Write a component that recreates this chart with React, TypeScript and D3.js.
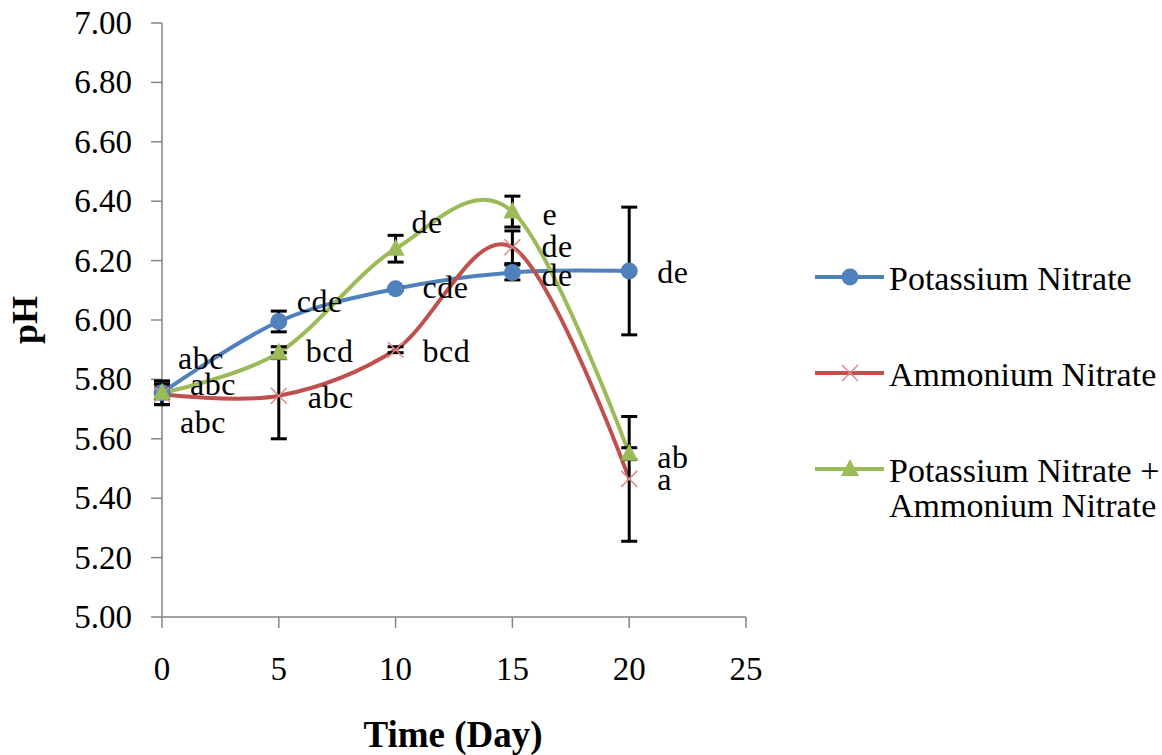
/**
 * pH over time chart
 * D3.js smoothed line chart with error bars and letter annotations
 */

import { useEffect, useRef } from 'react';
import * as d3 from 'd3';

const days = [0, 5, 10, 15, 20];
const xTicks = [0, 5, 10, 15, 20, 25];
const yTicks = [5.0, 5.2, 5.4, 5.6, 5.8, 6.0, 6.2, 6.4, 6.6, 6.8, 7.0];

const seriesNames = ['Potassium Nitrate', 'Ammonium Nitrate', 'Potassium Nitrate + Ammonium Nitrate'];

const potassiumValues = [5.755, 5.995, 6.105, 6.16, 6.165];
const ammoniumValues = [5.75, 5.745, 5.9, 6.245, 5.465];
const mixedValues = [5.755, 5.89, 6.24, 6.365, 5.55];

const potassiumErrors = [0.04, 0.035, 0.005, 0.025, 0.215];
const ammoniumErrors = [0.035, 0.145, 0.01, 0.055, 0.21];
const mixedErrors = [0.02, 0.02, 0.045, 0.052, 0.02];

const potassiumLetters = ['abc', 'cde', 'cde', 'de', 'de'];
const ammoniumLetters = ['abc', 'abc', 'bcd', 'de', 'a'];
const mixedLetters = ['abc', 'bcd', 'de', 'e', 'ab'];

const WIDTH = 1162;
const HEIGHT = 755;
const FONT = '"Liberation Serif", "Times New Roman", Times, serif';

export default function App() {
  const svgRef = useRef<SVGSVGElement>(null);

  useEffect(() => {
    if (!svgRef.current) return;
    document.body.style.margin = '0';

    d3.select(svgRef.current).selectAll('*').remove();

    const svg = d3.select(svgRef.current)
      .attr('width', WIDTH)
      .attr('height', HEIGHT)
      .attr('font-family', FONT)
      .style('display', 'block')
      .style('background', '#fff');

    const x = d3.scaleLinear().domain([0, 25]).range([162, 746]);
    const y = d3.scaleLinear().domain([5, 7]).range([617, 23]);
    const axisColor = '#868686';

    // Y axis
    svg.append('line')
      .attr('x1', x(0)).attr('x2', x(0))
      .attr('y1', y(7)).attr('y2', y(5))
      .attr('stroke', axisColor).attr('stroke-width', 1.5);
    yTicks.forEach(t => {
      svg.append('line')
        .attr('x1', x(0) - 11).attr('x2', x(0))
        .attr('y1', y(t)).attr('y2', y(t))
        .attr('stroke', axisColor).attr('stroke-width', 1.5);
      svg.append('text')
        .attr('x', 132)
        .attr('y', y(t) + 11)
        .attr('text-anchor', 'end')
        .style('font-size', '33px')
        .style('fill', '#000')
        .text(t.toFixed(2));
    });

    // X axis
    svg.append('line')
      .attr('x1', x(0)).attr('x2', x(25))
      .attr('y1', y(5)).attr('y2', y(5))
      .attr('stroke', axisColor).attr('stroke-width', 1.5);
    xTicks.forEach(t => {
      svg.append('line')
        .attr('x1', x(t)).attr('x2', x(t))
        .attr('y1', y(5)).attr('y2', y(5) + 11)
        .attr('stroke', axisColor).attr('stroke-width', 1.5);
      svg.append('text')
        .attr('x', x(t))
        .attr('y', 680)
        .attr('text-anchor', 'middle')
        .style('font-size', '33px')
        .style('fill', '#000')
        .text(t);
    });

    // Axis titles
    svg.append('text')
      .attr('transform', `translate(37,${y(6)}) rotate(-90)`)
      .attr('text-anchor', 'middle')
      .style('font-size', '36px')
      .style('font-weight', 'bold')
      .text('pH');
    svg.append('text')
      .attr('x', 453)
      .attr('y', 747)
      .attr('text-anchor', 'middle')
      .style('font-size', '37px')
      .style('font-weight', 'bold')
      .text('Time (Day)');

    const series = [
      { name: seriesNames[0], values: potassiumValues, errors: potassiumErrors, color: '#4F81BD', marker: 'circle' },
      { name: seriesNames[1], values: ammoniumValues, errors: ammoniumErrors, color: '#C0504D', marker: 'cross' },
      { name: seriesNames[2], values: mixedValues, errors: mixedErrors, color: '#9BBB59', marker: 'triangle' },
    ];

    const line = d3.line<number>()
      .x((_d, i) => x(days[i]))
      .y(d => y(d))
      .curve(d3.curveCardinal.tension(0));

    const drawMarker = (
      g: d3.Selection<SVGGElement, unknown, null, undefined>,
      kind: string,
      cx: number,
      cy: number,
      color: string
    ) => {
      if (kind === 'circle') {
        g.append('circle').attr('cx', cx).attr('cy', cy).attr('r', 8.5).attr('fill', color);
      } else if (kind === 'triangle') {
        g.append('path')
          .attr('d', `M${cx},${cy - 10}L${cx + 9},${cy + 7}L${cx - 9},${cy + 7}Z`)
          .attr('fill', color);
      } else {
        g.append('path')
          .attr('d', `M${cx - 8},${cy - 8}L${cx + 8},${cy + 8}M${cx - 8},${cy + 8}L${cx + 8},${cy - 8}`)
          .attr('stroke', '#E08A88')
          .attr('stroke-width', 1.5)
          .attr('fill', 'none');
      }
    };

    // Lines (drawn in series order)
    series.forEach(s => {
      svg.append('path')
        .attr('d', line(s.values))
        .attr('fill', 'none')
        .attr('stroke', s.color)
        .attr('stroke-width', 4);
    });

    // Error bars
    const eb = svg.append('g');
    series.forEach(s => {
      s.values.forEach((v, i) => {
        const cx = x(days[i]);
        const top = y(v + s.errors[i]);
        const bot = y(v - s.errors[i]);
        eb.append('line').attr('x1', cx).attr('x2', cx).attr('y1', top).attr('y2', bot)
          .attr('stroke', '#000').attr('stroke-width', 3);
        [top, bot].forEach(yy => {
          eb.append('line').attr('x1', cx - 8).attr('x2', cx + 8).attr('y1', yy).attr('y2', yy)
            .attr('stroke', '#000').attr('stroke-width', 3);
        });
      });
    });

    // Markers
    const mk = svg.append('g');
    series.forEach(s => {
      s.values.forEach((v, i) => drawMarker(mk, s.marker, x(days[i]), y(v), s.color));
    });

    // Letter annotations (offsets from each point)
    const letterPos = [
      { letters: potassiumLetters, dx: [16, 18, 27, 29, 28], dy: [-24, -9, 9, 14, 12] },
      { letters: ammoniumLetters, dx: [18, 29, 27, 29, 28], dy: [39, 12, 12, 10, 11] },
      { letters: mixedLetters, dx: [28, 27, 16, 30, 28], dy: [2, 9, -16, 13, 14] },
    ];
    const ann = svg.append('g').style('font-size', '32px').style('fill', '#000');
    letterPos.forEach((lp, si) => {
      lp.letters.forEach((t, i) => {
        ann.append('text')
          .attr('x', x(days[i]) + lp.dx[i])
          .attr('y', y(series[si].values[i]) + lp.dy[i])
          .style('letter-spacing', '0.5px')
          .text(t);
      });
    });

    // Legend
    const legendRows = [277, 373, 469];
    const legend = svg.append('g');
    series.forEach((s, i) => {
      const ly = legendRows[i];
      legend.append('line')
        .attr('x1', 815).attr('x2', 884).attr('y1', ly).attr('y2', ly)
        .attr('stroke', s.color).attr('stroke-width', 4);
      drawMarker(legend, s.marker, 850, ly, s.color);
    });
    const legendText = legend.append('g').style('font-size', '34px').style('fill', '#000');
    legendText.append('text').attr('x', 889).attr('y', legendRows[0] + 13).text('Potassium Nitrate');
    legendText.append('text').attr('x', 889).attr('y', legendRows[1] + 13).text('Ammonium Nitrate');
    legendText.append('text').attr('x', 889).attr('y', legendRows[2] + 13).text('Potassium Nitrate +');
    legendText.append('text').attr('x', 889).attr('y', legendRows[2] + 48).text('Ammonium Nitrate');
  }, []);

  return <svg ref={svgRef} />;
}
